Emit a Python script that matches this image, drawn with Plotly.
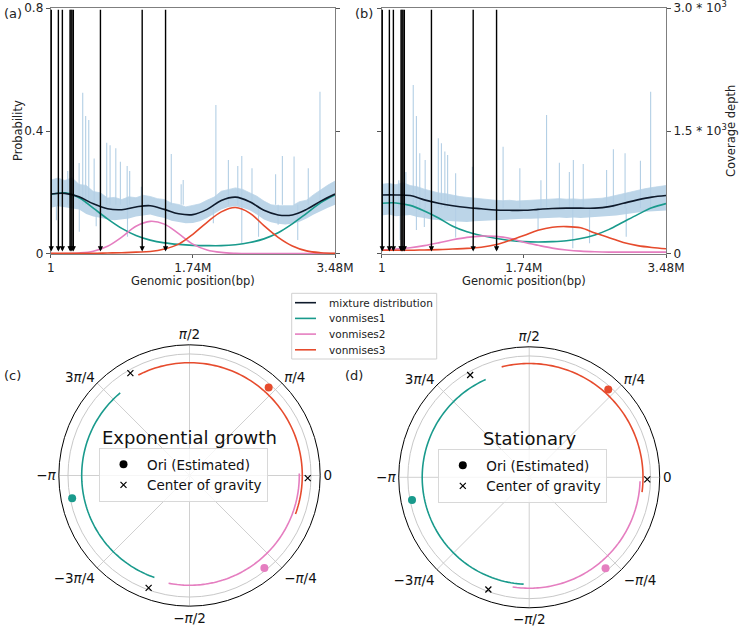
import numpy as np
import plotly.graph_objects as go

# genomic grid (Mbp) used for the fitted curves
pos = [0, 0.174, 0.348, 0.522, 0.696, 0.87, 1.044, 1.218, 1.392, 1.566, 1.74,
       1.914, 2.088, 2.262, 2.436, 2.61, 2.784, 2.958, 3.132, 3.306, 3.48]

# panel (a) exponential growth
mix_a = [0.195, 0.197, 0.186, 0.163, 0.147, 0.144, 0.153, 0.157, 0.145, 0.131, 0.128,
         0.145, 0.174, 0.185, 0.170, 0.142, 0.127, 0.127, 0.145, 0.172, 0.195]
vm1_a = [0.194, 0.199, 0.183, 0.149, 0.114, 0.083, 0.060, 0.045, 0.036, 0.031, 0.028,
         0.027, 0.027, 0.030, 0.037, 0.049, 0.069, 0.098, 0.132, 0.167, 0.192]
vm2_a = [0.001, 0.001, 0.003, 0.009, 0.025, 0.055, 0.090, 0.106, 0.097, 0.066, 0.032,
         0.013, 0.005, 0.002, 0.001, 0.001, 0.001, 0.001, 0.001, 0.001, 0.001]
vm3_a = [0.002, 0.002, 0.002, 0.002, 0.003, 0.004, 0.006, 0.008, 0.016, 0.032, 0.064,
         0.103, 0.137, 0.151, 0.133, 0.092, 0.054, 0.026, 0.010, 0.004, 0.002]

# panel (b) stationary
mix_b = [0.192, 0.192, 0.190, 0.176, 0.165, 0.157, 0.151, 0.147, 0.143, 0.142, 0.142,
         0.145, 0.148, 0.149, 0.149, 0.149, 0.154, 0.165, 0.176, 0.185, 0.190]
vm1_b = [0.165, 0.166, 0.158, 0.140, 0.117, 0.090, 0.072, 0.060, 0.051, 0.044, 0.040,
         0.039, 0.040, 0.043, 0.050, 0.062, 0.080, 0.104, 0.128, 0.150, 0.164]
vm2_b = [0.013, 0.016, 0.020, 0.027, 0.036, 0.046, 0.054, 0.058, 0.057, 0.051, 0.038,
         0.028, 0.019, 0.013, 0.009, 0.007, 0.006, 0.006, 0.006, 0.006, 0.006]
vm3_b = [0.012, 0.012, 0.012, 0.013, 0.014, 0.016, 0.018, 0.022, 0.030, 0.044, 0.060,
         0.077, 0.087, 0.089, 0.085, 0.068, 0.053, 0.037, 0.027, 0.021, 0.017]

# coverage envelope grid (Mbp)
pos_cov = [0, 0.087, 0.174, 0.261, 0.348, 0.435, 0.522, 0.609, 0.696, 0.783, 0.87,
           0.957, 1.044, 1.131, 1.218, 1.305, 1.392, 1.479, 1.566, 1.653, 1.74,
           1.827, 1.914, 2.001, 2.088, 2.175, 2.262, 2.349, 2.436, 2.523, 2.61,
           2.697, 2.784, 2.871, 2.958, 3.045, 3.132, 3.219, 3.306, 3.393, 3.48]
cov_hi_a = [0.240, 0.247, 0.239, 0.248, 0.226, 0.223, 0.203, 0.199, 0.182, 0.184, 0.177,
            0.186, 0.183, 0.191, 0.187, 0.180, 0.177, 0.165, 0.161, 0.153, 0.158,
            0.163, 0.175, 0.185, 0.204, 0.210, 0.215, 0.210, 0.198, 0.188, 0.172,
            0.160, 0.157, 0.157, 0.157, 0.170, 0.175, 0.193, 0.210, 0.224, 0.237]
cov_lo_a = [0.150, 0.155, 0.152, 0.148, 0.145, 0.130, 0.122, 0.118, 0.112, 0.110, 0.113,
            0.115, 0.122, 0.125, 0.128, 0.122, 0.117, 0.108, 0.104, 0.100, 0.101,
            0.106, 0.117, 0.130, 0.145, 0.153, 0.155, 0.150, 0.142, 0.128, 0.112,
            0.103, 0.098, 0.096, 0.098, 0.105, 0.115, 0.128, 0.140, 0.150, 0.160]
cov_hi_b = [850, 860, 845, 870, 835, 820, 790, 770, 745, 735, 715, 700, 690, 680, 670,
            665, 655, 650, 655, 645, 650, 655, 660, 665, 670, 675, 668, 672, 665, 670,
            675, 680, 695, 715, 735, 760, 775, 795, 810, 825, 835]
cov_lo_b = [470, 480, 460, 470, 475, 450, 440, 420, 410, 405, 400, 395, 390, 400, 405,
            410, 415, 420, 420, 425, 430, 430, 435, 440, 440, 445, 440, 445, 440, 445,
            450, 455, 460, 470, 480, 495, 505, 515, 520, 525, 530]

# coverage spikes (Mbp, value)
spike_pos_a = [0.209, 0.278, 0.348, 0.392, 0.428, 0.466, 0.532, 0.686, 0.727, 0.797,
               0.853, 0.936, 0.967, 1.110, 1.476, 1.597, 1.622, 2.022, 2.175, 2.290,
               2.339, 2.464, 2.753, 2.836, 2.979, 3.153, 3.296,
               0.070, 0.350, 0.557, 0.940, 1.991, 2.339, 2.544, 2.784, 3.024]
spike_val_a = [0.27, 0.30, 0.296, 0.525, 0.449, 0.436, 0.311, 0.362, 0.354, 0.344,
               0.30, 0.286, 0.27, 0.219, 0.325, 0.227, 0.241, 0.485, 0.306, 0.286,
               0.319, 0.279, 0.259, 0.319, 0.317, 0.279, 0.528,
               0.11, 0.072, 0.09, 0.056, 0.10, 0.035, 0.056, 0.095, 0.045]
spike_pos_b = [0.209, 0.296, 0.386, 0.425, 0.466, 0.532, 0.693, 0.731, 0.773, 0.807,
               0.905, 1.110, 1.486, 1.691, 1.949, 2.018, 2.175, 2.297, 2.346, 2.467,
               2.753, 2.836, 2.979, 3.167, 3.292,
               0.226, 0.425, 0.522, 0.905, 1.914, 2.339, 2.544, 2.993]
spike_val_b = [900, 1000, 2061, 1683, 1228, 1146, 1411, 1350, 1250, 1207, 984, 1065,
               1309, 1045, 900, 1695, 1113, 1000, 1146, 1098, 1024, 1277, 1228, 1138,
               1980, 171, 293, 330, 200, 293, 69, 130, 211]
spike_base_a = 0.16
spike_base_b = 560

# candidate positions marked with arrows (Mbp)
arrow_pos = [0.007, 0.094, 0.143, 0.237, 0.249, 0.261, 0.277, 0.609, 1.12, 1.406]

# polar panels: arcs (start deg, end deg, radius), Ori dots, centres of gravity
arcs_c = {"vm1": (130, 251, 0.825), "vm2": (1, -101, 0.84), "vm3": (-20, 117, 0.863)}
arcs_d = {"vm1": (114, 267, 0.82), "vm2": (-2, -98.6, 0.85), "vm3": (-7.5, 104, 0.872)}
ori_theta_c = [191, -51, 48]
ori_theta_d = [191, -50, 48]
ori_r = [0.915, 0.91, 0.905]
cog_theta_c = [120, 250, -1.3]
cog_theta_d = [120, -110, -1]
cog_r = [0.905, 0.915, 0.905]

legend_names = ["mixture distribution", "vonmises1", "vonmises2", "vonmises3"]

C_MIX = "#0e1a2b"
C1 = "#199a8c"
C2 = "#e57ec0"
C3 = "#e64b2d"
C_COV = "#bcd5e8"
FONT = "DejaVu Sans"
W, H = 740, 627


def px(x):
    return x / W


def py(y):
    return 1 - y / H


fig = go.Figure()


def spikes(p, v, base):
    xs, ys = [], []
    for a, b in zip(p, v):
        xs += [a, a, None]
        ys += [base, b, None]
    return xs, ys


def panel(xa, ya, yc, lo, hi, sp, sv, base, curves):
    fig.add_trace(go.Scatter(x=pos_cov, y=lo, xaxis=xa, yaxis=yc, mode="lines",
                             line=dict(width=0, color=C_COV), hoverinfo="skip"))
    fig.add_trace(go.Scatter(x=pos_cov, y=hi, xaxis=xa, yaxis=yc, mode="lines", fill="tonexty",
                             fillcolor=C_COV, line=dict(width=0.8, color=C_COV),
                             hoverinfo="skip"))
    sx, sy = spikes(sp, sv, base)
    fig.add_trace(go.Scatter(x=sx, y=sy, xaxis=xa, yaxis=yc, mode="lines",
                             line=dict(width=1.1, color="#b3cfe5"), hoverinfo="skip"))
    for cl, vals in zip([C1, C2, C3, C_MIX], curves):
        fig.add_trace(go.Scatter(x=pos, y=vals, xaxis=xa, yaxis=ya, mode="lines",
                                 line=dict(color=cl, width=1.6, shape="spline")))


panel("x", "y", "y", cov_lo_a, cov_hi_a, spike_pos_a, spike_val_a, spike_base_a,
      [vm1_a, vm2_a, vm3_a, mix_a])
# (b): coverage on y2 (right), probabilities on y3 (left, drawn on top)
panel("x2", "y3", "y2", cov_lo_b, cov_hi_b, spike_pos_b, spike_val_b, spike_base_b,
      [vm1_b, vm2_b, vm3_b, mix_b])
for tr in fig.data:
    tr.showlegend = False

annotations = []
for xr, yr in [("x", "y"), ("x2", "y3")]:
    for p in arrow_pos:
        annotations.append(dict(x=p, y=0.008, ax=p, ay=0.8, xref=xr, yref=yr, axref=xr,
                                ayref=yr, text="", showarrow=True, arrowhead=2,
                                arrowsize=0.75, arrowwidth=1.4, arrowcolor="black"))


def polar_traces(sub, arcs, ori_t, cog_t, legend):
    for key, col in [("vm1", C1), ("vm2", C2), ("vm3", C3)]:
        t0, t1, r = arcs[key]
        th = np.linspace(t0, t1, 90)
        fig.add_trace(go.Scatterpolar(theta=th, r=[r] * len(th), subplot=sub, mode="lines",
                                      line=dict(color=col, width=1.6), showlegend=False))
    fig.add_trace(go.Scatterpolar(theta=ori_t, r=ori_r, subplot=sub, mode="markers",
                                  marker=dict(color=[C1, C2, C3], size=8), showlegend=False))
    fig.add_trace(go.Scatterpolar(theta=[None], r=[None], subplot=sub, mode="markers",
                                  name="Ori (Estimated)", legend=legend,
                                  marker=dict(color="black", size=8)))
    fig.add_trace(go.Scatterpolar(theta=cog_t, r=cog_r, subplot=sub, mode="markers",
                                  name="Center of gravity", legend=legend,
                                  marker=dict(symbol="x-thin", size=6, color="black",
                                              line=dict(color="black", width=1.2))))


polar_traces("polar", arcs_c, ori_theta_c, cog_theta_c, "legend2")
polar_traces("polar2", arcs_d, ori_theta_d, cog_theta_d, "legend3")

xax = dict(range=[0, 3.48], tickvals=[0, 1.74, 3.48], ticktext=["1", "1.74M", "3.48M"],
           showline=True, linecolor="#7f7f7f", linewidth=1, mirror=True, ticks="outside",
           ticklen=3, tickcolor="#555", showgrid=False, zeroline=False,
           ticklabeloverflow="allow", tickfont=dict(size=12, color="#222"))
yspan = [0.595, 0.987]

angular = dict(rotation=0, direction="counterclockwise",
               tickvals=[0, 45, 90, 135, 180, 225, 270, 315],
               ticktext=["0", "<i>π</i>/4", "<i>π</i>/2", "3<i>π</i>/4", "−<i>π</i>",
                         "−3<i>π</i>/4", "−<i>π</i>/2", "−<i>π</i>/4"],
               showline=True, linecolor="black", linewidth=1, gridcolor="#d0d0d0",
               ticks="", tickfont=dict(size=13.5, color="#111"))
radial = dict(range=[0, 1], tickvals=[0.93], showticklabels=False, gridcolor="#c8c8c8",
              showline=False, ticks="")

txt = dict(font=dict(size=13, color="#222"), showarrow=False, xref="paper", yref="paper")
for lab, x, y in [("(a)", 2, 14), ("(b)", 353, 14), ("(c)", 2, 376), ("(d)", 343, 376)]:
    annotations.append(dict(x=px(x), y=py(y), text=lab, xanchor="left", yanchor="middle", **txt))
lab = dict(font=dict(size=11.5, color="#222"), showarrow=False, xref="paper", yref="paper",
           xanchor="center", yanchor="middle")
annotations += [
    dict(x=px(193), y=py(281), text="Genomic position(bp)", **lab),
    dict(x=px(524), y=py(281), text="Genomic position(bp)", **lab),
    dict(x=px(18), y=py(131), text="Probability", textangle=-90, **lab),
    dict(x=px(731), y=py(131), text="Coverage depth", textangle=-90, **lab),
    dict(x=px(189.5), y=py(437), text="Exponential growth", xanchor="center",
         yanchor="middle", showarrow=False, xref="paper", yref="paper",
         font=dict(size=18, color="#111")),
    dict(x=px(529.2), y=py(438), text="Stationary", xanchor="center", yanchor="middle",
         showarrow=False, xref="paper", yref="paper", font=dict(size=18, color="#111")),
]

# legend for the curves (drawn by hand to match the compact box)
shapes = [dict(type="rect", xref="paper", yref="paper", x0=px(291.7), x1=px(436.7),
               y0=py(359), y1=py(293.3), line=dict(color="#d0d0d0", width=1),
               fillcolor="white", layer="above")]
for i, (nm, cl) in enumerate(zip(legend_names, [C_MIX, C1, C2, C3])):
    yy = 302.7 + i * 15.7
    shapes.append(dict(type="line", xref="paper", yref="paper", x0=px(295), x1=px(316),
                       y0=py(yy), y1=py(yy), line=dict(color=cl, width=1.6), layer="above"))
    annotations.append(dict(x=px(326.5), y=py(yy), text=nm, xanchor="left", yanchor="middle",
                            showarrow=False, xref="paper", yref="paper",
                            font=dict(size=10.5, color="#222")))

fig.update_layout(
    width=W, height=H, margin=dict(l=0, r=0, t=0, b=0, autoexpand=False),
    paper_bgcolor="white", plot_bgcolor="white",
    font=dict(family=FONT, color="#222"),
    xaxis=dict(domain=[0.0685, 0.4527], anchor="y", **xax),
    yaxis=dict(domain=yspan, anchor="x", range=[0, 0.8], tickvals=[0, 0.4, 0.8],
               ticktext=["0", "0.4", "0.8"], showline=True, linecolor="#7f7f7f",
               mirror="ticks", ticks="outside", ticklen=4, tickcolor="#555",
               showgrid=False, zeroline=False, ticklabeloverflow="allow",
               tickfont=dict(size=12, color="#222")),
    xaxis2=dict(domain=[0.5158, 0.9], anchor="y2", **xax),
    yaxis2=dict(domain=yspan, anchor="x2", side="right", range=[0, 3000],
                tickvals=[0, 1500, 3000],
                ticktext=["0", "1.5 * 10<sup>3</sup>", "3.0 * 10<sup>3</sup>"],
                showline=True, linecolor="#7f7f7f", mirror=True,
                ticks="outside", ticklen=4, tickcolor="#555", showgrid=False, zeroline=False,
                ticklabeloverflow="allow", tickfont=dict(size=12, color="#222")),
    yaxis3=dict(overlaying="y2", anchor="x2", side="left", range=[0, 0.8],
                tickvals=[0, 0.4, 0.8], showticklabels=False, ticks="outside", ticklen=4,
                tickcolor="#555", showgrid=False, zeroline=False, showline=False),
    polar=dict(domain=dict(x=[0.0795, 0.4327], y=[0.0332, 0.4501]), bgcolor="white",
               angularaxis=angular, radialaxis=radial),
    polar2=dict(domain=dict(x=[0.5388, 0.8915], y=[0.0306, 0.4469]), bgcolor="white",
                angularaxis=angular, radialaxis=radial),
    legend2=dict(x=px(99), y=py(448), xanchor="left", yanchor="top", itemwidth=37,
                 bgcolor="rgba(255,255,255,0.8)", bordercolor="#d8d8d8", borderwidth=1,
                 font=dict(size=13.5, color="#111")),
    legend3=dict(x=px(438.3), y=py(449), xanchor="left", yanchor="top", itemwidth=37,
                 bgcolor="rgba(255,255,255,0.8)", bordercolor="#d8d8d8", borderwidth=1,
                 font=dict(size=13.5, color="#111")),
    annotations=annotations,
    shapes=shapes,
    showlegend=True,
)

fig.write_html("out.html", config={"displayModeBar": False},
               post_script="document.body.style.margin='0';"
                           "document.documentElement.style.overflow='hidden';")
